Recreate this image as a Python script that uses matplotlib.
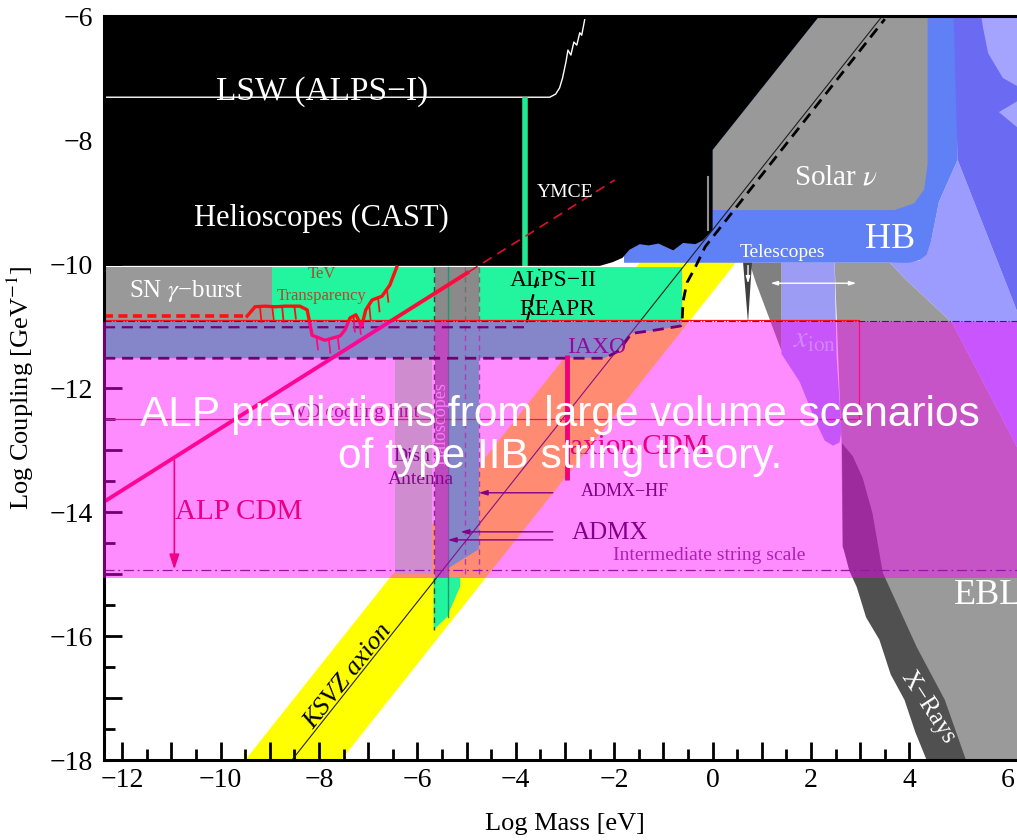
import matplotlib
matplotlib.use("Agg")
import matplotlib.pyplot as plt
from matplotlib.patches import Polygon, Rectangle
from matplotlib.ticker import MultipleLocator, FuncFormatter

plt.rcParams["font.family"] = ["Liberation Serif", "DejaVu Serif"]
plt.rcParams["mathtext.fontset"] = "stix"

# axis ranges: log10(m / eV) and log10(g / GeV^-1)
x_range = (-12.37, 6.35)
y_range = (-18.0, -6.0)

# ---- regions (log m, log g) ----
ksvz_upper_offset = -8.5      # upper edge of KSVZ band: log g = log m + offset
ksvz_lower_offset = -10.45    # lower edge
ksvz_line_offset = -9.45      # KSVZ line

cast_x = [-12.37, 2.17, 0.0, 0.0, -0.2, -0.35, -0.6, -0.8, -1.1, -1.3, -1.48, -1.69, -1.83, -2.03, -2.29, -12.37]
cast_y = [-6.0, -6.0, -8.16, -9.45, -9.62, -9.68, -9.66, -9.78, -9.67, -9.70, -9.68, -9.77, -9.90, -9.97, -10.03, -10.03]

hb_x = [-1.8, -1.8, 4.0, 4.2, 4.35, 4.45, 4.6, 4.98, 4.97, -1.8]
hb_y = [-9.6, -9.98, -9.98, -9.94, -9.85, -9.6, -9.0, -8.32, -6.0, -6.0]

violet_x = [4.9, 6.35, 6.35, 6.10, 4.98]
violet_y = [-6.0, -6.0, -11.1, -10.58, -8.32]

lav_top_x = [5.46, 6.35, 6.35, 5.9, 5.6, 5.5]
lav_top_y = [-6.0, -6.0, -7.2, -7.0, -6.6, -6.2]
lav_wedge_x = [5.82, 6.35, 6.35]
lav_wedge_y = [-7.55, -7.3, -7.9]

lav_mid_x = [4.98, 6.10, 6.35, 6.35, 4.87, 3.94, 3.6, 4.2, 4.45, 4.6]
lav_mid_y = [-8.32, -10.58, -11.1, -13.2, -10.95, -10.26, -9.98, -9.95, -9.6, -9.0]

solar_x = [0.0, 2.17, 4.37, 4.37, 4.3, 4.1, 3.7, 0.0]
solar_y = [-8.16, -6.0, -6.0, -8.4, -8.8, -9.02, -9.13, -9.13]

green_x = [-12.37, -0.62, -0.62, -0.65, -1.2, -1.65, -1.9, -2.2, -12.37]
green_y = [-10.05, -10.05, -10.93, -11.0, -11.07, -11.12, -11.4, -11.52, -11.52]

sn_x = [-12.37, -8.95, -8.95, -12.37]
sn_y = [-10.05, -10.05, -10.93, -10.93]

dish_x = [-6.46, -5.70, -5.70, -6.46]
dish_y = [-11.52, -11.52, -15.0, -15.0]

halo_gray_x = [-5.65, -4.75, -4.75, -5.38, -5.38, -5.65]
halo_gray_y = [-10.05, -10.05, -10.93, -10.93, -15.06, -15.06]
halo_green_x = [-5.36, -4.75, -4.75, -5.36]
halo_green_y = [-10.93, -10.93, -14.6, -14.9]
halo_low_x = [-5.67, -5.13, -5.13, -5.36, -5.38, -5.67]
halo_low_y = [-15.06, -15.06, -15.2, -15.62, -15.68, -15.9]

tele_x = [0.75, 1.40, 1.40, 0.88]
tele_y = [-9.98, -9.98, -11.40, -10.30]
tele_spike_x = [0.62, 0.80, 0.72]
tele_spike_y = [-9.98, -9.98, -10.95]

xion_x = [1.40, 2.48, 2.52, 2.62, 2.58, 2.45, 2.28, 2.1, 1.77, 1.40]
xion_y = [-9.98, -9.98, -11.5, -12.7, -12.88, -12.93, -12.85, -12.55, -11.9, -11.45]

ebl_x = [2.48, 3.6, 3.94, 4.87, 6.35, 6.35, 4.87, 2.64, 2.62]
ebl_y = [-9.98, -9.98, -10.26, -10.95, -13.2, -18.0, -18.0, -14.56, -12.85]

xray_x = [2.63, 2.85, 3.05, 3.25, 3.46, 4.15, 4.72, 5.15, 4.35, 4.12, 3.90, 3.62, 3.39, 3.12, 2.93, 2.78, 2.65]
xray_y = [-12.89, -13.1, -13.45, -14.02, -14.98, -16.18, -17.03, -18.0, -18.0, -17.55, -17.03, -16.62, -16.06, -15.70, -15.21, -14.95, -14.56]

# ---- lines ----
lsw_x = [-12.37, -3.31, -3.19, -3.11, -3.05, -2.98, -2.94, -2.88, -2.82, -2.76, -2.70, -2.66, -2.60]
lsw_y = [-7.31, -7.31, -7.26, -7.16, -7.0, -6.74, -6.55, -6.63, -6.42, -6.47, -6.27, -6.31, -6.06]

ymce_x = [-3.82, -3.82]
ymce_y = [-7.31, -10.04]

alp_slope = 0.5
alp_offset = -7.65
alp_solid_m = (-12.37, -4.95)
alp_dashed_m = (-4.95, -1.99)

sn_line_x = [-12.37, -9.46]
sn_line_y = [-10.84, -10.84]

tev_x = [-9.46, -9.30, -9.10, -8.89, -8.69, -8.39, -8.24, -8.14, -7.88, -7.57, -7.47, -7.37, -7.25, -7.13, -7.05, -6.92, -6.72, -6.56, -6.42]
tev_y = [-10.84, -10.69, -10.68, -10.69, -10.68, -10.68, -10.74, -11.15, -11.23, -11.16, -11.06, -10.87, -10.82, -11.0, -10.74, -10.58, -10.52, -10.34, -10.05]
tev_hair_x = [-9.2, -8.95, -8.75, -8.5, -8.05, -7.8, -7.62, -7.3, -7.18, -6.98, -6.8, -6.62]
tev_hair_len = [0.25, 0.22, 0.25, 0.2, 0.2, 0.22, 0.2, 0.25, 0.2, 0.25, 0.22, 0.2]

iaxo_x = [-12.37, -2.2, -1.9, -1.65, -1.2, -0.65, -0.62, -0.6, -0.52, -0.35, -0.15, 3.5]
iaxo_y = [-11.52, -11.52, -11.4, -11.12, -11.07, -11.0, -10.93, -10.6, -10.3, -10.05, -9.72, -6.05]

alps2_x = [-12.37, -3.8, -3.52]
alps2_y = [-11.02, -11.02, -10.08]

box_x = [-12.37, 2.98, 2.98, -12.37]
box_y = [-10.90, -10.90, -12.5, -12.5]

string_scale = -14.94
dashdot_level = -10.92

iaxo_cdm_x = -2.96
iaxo_cdm_y = (-11.47, -13.48)
alp_cdm_arrow_x = -10.94
alp_cdm_arrow_y = (-13.12, -14.97)

admx_hf_arrow = (-3.19, -4.81, -13.69)
admx_arrows = [(-3.19, -5.18, -14.32), (-3.19, -5.44, -14.45)]

tele_arrow = (1.12, 2.98, -10.31)
tele_down = (0.72, -9.98, -10.36)

fig = plt.figure(figsize=(10.17, 8.4), dpi=100)
ax = fig.add_axes([104 / 1017, 80 / 840, 921 / 1017, 744 / 840])
ax.set_xlim(*x_range)
ax.set_ylim(*y_range)


def poly(xs, ys, color, z, **kw):
    ax.add_patch(Polygon(list(zip(xs, ys)), closed=True, facecolor=color,
                         edgecolor="none", zorder=z, **kw))


# KSVZ band
bx = [x_range[0], x_range[1], x_range[1], x_range[0]]
by = [x_range[0] + ksvz_upper_offset, x_range[1] + ksvz_upper_offset,
      x_range[1] + ksvz_lower_offset, x_range[0] + ksvz_lower_offset]
poly(bx, by, "#ffff00", 1)

poly(dish_x, dish_y, "#a8ffa8", 1.5)
poly(green_x, green_y, "#22f59e", 2)
poly(sn_x, sn_y, "#999999", 2.2)
poly(halo_gray_x, halo_gray_y, "#8a8a8a", 2.4)
poly(halo_green_x, halo_green_y, "#22f59e", 2.5)
poly(halo_low_x, halo_low_y, "#22f59e", 2.5)

poly(lav_mid_x, lav_mid_y, "#9c9cff", 2.9)
poly(hb_x, hb_y, "#6080f5", 3)
poly(violet_x, violet_y, "#6a6af2", 3.1)
poly(lav_top_x, lav_top_y, "#a4a4ff", 3.2)
poly(lav_wedge_x, lav_wedge_y, "#a4a4ff", 3.2)
poly(solar_x, solar_y, "#999999", 3.3)
poly(cast_x, cast_y, "#000000", 3.4)
poly(ebl_x, ebl_y, "#9a9a9a", 3.1)
poly(xion_x, xion_y, "#9c9cf5", 3.2)
poly(tele_x, tele_y, "#808080", 3.3)
poly(tele_spike_x, tele_spike_y, "#404040", 3.4)
poly(xray_x, xray_y, "#505050", 3.5)

# spike inside the helioscope region
ax.plot([-0.1, -0.1], [-8.6, -9.45], color="#909090", lw=1.5, zorder=3.6)

# haloscope outlines
ax.plot([-5.67, -5.67], [-10.05, -15.9], ls=(0, (4, 3)), color="#2a4a3a", lw=1.0, zorder=4)
ax.plot([-5.38, -5.38], [-10.05, -15.7], color="#1a9a6a", lw=1.0, zorder=4)
ax.plot([-5.04, -5.04], [-10.05, -15.0], ls=(0, (4, 3)), color="#707070", lw=1.0, zorder=4)
ax.plot([-4.75, -4.75], [-10.05, -15.0], ls=(0, (4, 3)), color="#707070", lw=1.0, zorder=4)

# KSVZ line
ax.plot(x_range, [x_range[0] + ksvz_line_offset, x_range[1] + ksvz_line_offset],
        color="#202020", lw=0.8, zorder=5)

ax.plot(lsw_x, lsw_y, color="white", lw=1.0, zorder=5)
ax.plot(ymce_x, ymce_y, color="#22e892", lw=4.0, zorder=5, solid_capstyle="butt")
ax.plot(iaxo_x, iaxo_y, color="black", lw=2.0, ls=(0, (4, 2.5)), zorder=5)
ax.plot(alps2_x, alps2_y, color="black", lw=1.6, ls=(0, (5, 3)), zorder=5)
ax.plot(box_x + [box_x[0]], box_y + [box_y[0]], color="#ff1020", lw=0.9, zorder=5)
ax.axhline(dashdot_level, color="#303030", lw=0.8, ls="-.", zorder=5)
ax.axhline(string_scale, color="#502060", lw=0.9, ls=(0, (8, 3, 1.5, 3)), zorder=5)

m0, m1 = alp_solid_m
ax.plot([m0, m1], [alp_slope * m0 + alp_offset, alp_slope * m1 + alp_offset],
        color="#ff0a3c", lw=2.8, zorder=6, solid_capstyle="butt")
m0, m1 = alp_dashed_m
ax.plot([m0, m1], [alp_slope * m0 + alp_offset, alp_slope * m1 + alp_offset],
        color="#e01020", lw=1.2, ls=(0, (6, 4)), zorder=6)
ax.plot(sn_line_x, sn_line_y, color="#ff1010", lw=2.6, ls=(0, (2.5, 1.5)), zorder=6)
ax.plot(tev_x, tev_y, color="#ff1010", lw=2.4, zorder=6)
for hx, hl in zip(tev_hair_x, tev_hair_len):
    ix = max(i for i in range(len(tev_x)) if tev_x[i] <= hx)
    t = (hx - tev_x[ix]) / (tev_x[ix + 1] - tev_x[ix])
    hy = tev_y[ix] + t * (tev_y[ix + 1] - tev_y[ix])
    ax.plot([hx, hx + 0.03], [hy, hy - hl], color="#ff1010", lw=1.3, zorder=6)
ax.plot([iaxo_cdm_x, iaxo_cdm_x], iaxo_cdm_y, color="#e80010", lw=3.5, zorder=6,
        solid_capstyle="butt")
ax.annotate("", xy=(alp_cdm_arrow_x, alp_cdm_arrow_y[1]), xytext=(alp_cdm_arrow_x, alp_cdm_arrow_y[0]),
            arrowprops=dict(arrowstyle="-|>,head_length=0.9,head_width=0.3", color="#e80020", lw=1.2),
            zorder=6)
for x0, x1, yy in [admx_hf_arrow] + admx_arrows:
    ax.annotate("", xy=(x1, yy), xytext=(x0, yy),
                arrowprops=dict(arrowstyle="-|>,head_length=0.5,head_width=0.15", color="#1a0028", lw=1.0),
                zorder=6)
x0, x1, yy = tele_arrow
ax.annotate("", xy=(x1, yy), xytext=(x0, yy),
            arrowprops=dict(arrowstyle="<|-|>,head_length=0.4,head_width=0.12", color="white", lw=1.0),
            zorder=6)
xx, y0, y1 = tele_down
ax.annotate("", xy=(xx, y1), xytext=(xx, y0),
            arrowprops=dict(arrowstyle="-|>,head_length=0.4,head_width=0.12", color="white", lw=1.0),
            zorder=6)

# ---- labels ----
T = dict(zorder=8, ha="center", va="center")
ax.text(-7.94, -7.22, "LSW (ALPS\u2212I)", color="white", fontsize=24, **T)
ax.text(-7.96, -9.26, "Helioscopes (CAST)", color="white", fontsize=22, **T)
ax.text(-3.0, -8.85, "YMCE", color="white", fontsize=14, **T)
ax.text(-10.7, -10.43, "SN $\\gamma$\u2212burst", color="white", fontsize=18, **T)
ax.text(-7.94, -10.16, "TeV", color="#b04a28", fontsize=12, **T)
ax.text(-7.94, -10.52, "Transparency", color="#b04a28", fontsize=12, **T)
ax.text(-3.24, -10.26, "ALPS\u2212II", color="black", fontsize=17, **T)
ax.text(-3.16, -10.74, "REAPR", color="black", fontsize=17, **T)
ax.text(2.5, -8.6, "Solar $\\nu$", color="white", fontsize=21, **T)
ax.text(3.6, -9.6, "HB", color="white", fontsize=26, **T)
ax.text(1.42, -9.82, "Telescopes", color="white", fontsize=14, **T)
ax.text(2.07, -11.23, "$x_{\\rm ion}$", color="#b0f0ff", fontsize=22, **T)
ax.text(-2.35, -11.34, "IAXO", color="#401050", fontsize=17, **T)
ax.text(-7.3, -12.4, "WD cooling hint", color="#80204a", fontsize=14, **T)
ax.text(-6.48, -13.1, "Dish", color="#2a0a38", fontsize=14, ha="left", va="center", zorder=8)
ax.text(-6.6, -13.47, "Antenna", color="#2a0a38", fontsize=14, ha="left", va="center", zorder=8)
ax.text(-5.52, -12.58, "Haloscopes", color="#f8e0f8", fontsize=13, rotation=90, **T)
ax.text(-1.48, -12.95, "axion CDM", color="#d4001e", fontsize=21, **T)
ax.text(-9.64, -14.0, "ALP CDM", color="#d4001e", fontsize=21, **T)
ax.text(-1.78, -13.67, "ADMX\u2212HF", color="#1a0028", fontsize=13, **T)
ax.text(-2.08, -14.34, "ADMX", color="#1a0028", fontsize=18, **T)
ax.text(-0.07, -14.7, "Intermediate string scale", color="#6a3a7a", fontsize=14, **T)
ax.text(5.6, -15.35, "EBL", color="white", fontsize=26, **T)
ax.text(4.37, -17.15, "X\u2212Rays", color="white", fontsize=18, rotation=-57, **T)
ax.text(-7.4, -16.66, "KSVZ axion", color="black", fontsize=19, style="italic",
        rotation=51.6, **T)

# ---- axes styling ----
for s in ax.spines.values():
    s.set_linewidth(2.2)
    s.set_zorder(9)
ax.xaxis.set_major_locator(MultipleLocator(1))
ax.xaxis.set_minor_locator(MultipleLocator(0.5))
ax.yaxis.set_major_locator(MultipleLocator(1))
ax.yaxis.set_minor_locator(MultipleLocator(0.5))


def even_label(v, _):
    k = int(round(v))
    if k % 2:
        return ""
    return f"\u2212{abs(k)}" if k < 0 else f"{k}"


ax.xaxis.set_major_formatter(FuncFormatter(even_label))
ax.yaxis.set_major_formatter(FuncFormatter(even_label))
ax.tick_params(which="both", direction="in", top=True, right=True, width=2.0,
               labelsize=20, zorder=9)
ax.tick_params(which="major", length=13)
ax.tick_params(which="minor", length=8)
ax.tick_params(axis="x", pad=6)
ax.tick_params(axis="y", pad=8)
ax.set_xlabel("Log Mass [eV]", fontsize=19, labelpad=14)
ax.set_ylabel("Log Coupling [GeV$^{-1}$]", fontsize=19, labelpad=10)

# ---- translucent banner ----
band = Rectangle((103 / 1017, 262 / 840), 1 - 103 / 1017, 256 / 840,
                 transform=fig.transFigure, facecolor="#ff00ff", alpha=0.45,
                 edgecolor="none", zorder=20)
fig.add_artist(band)
fig.text(560 / 1017, 1 - 436 / 840,
         "ALP predictions from large volume scenarios\nof type IIB string theory.",
         family=["Liberation Sans", "DejaVu Sans"], fontsize=30.5, color="white",
         ha="center", va="center", linespacing=1.05, zorder=21)

fig.savefig("out.png", dpi=100)
